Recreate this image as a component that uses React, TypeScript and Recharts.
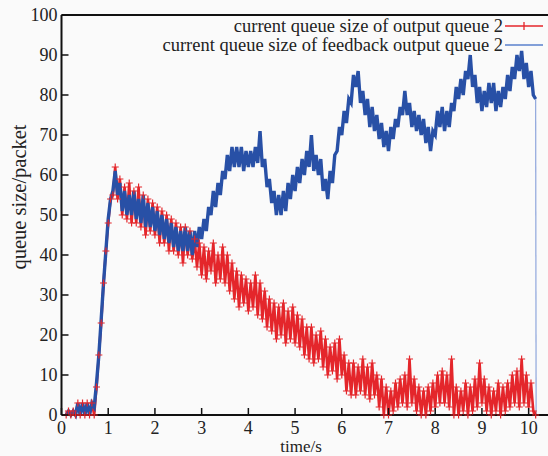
import React from 'react';
import { LineChart, Line, XAxis, YAxis, Legend, ReferenceLine } from 'recharts';

// sampling of the trace: first sample time and spacing (s)
const startTime = 0.1;
const timeStep = 0.05;
const dropTime = 10.16;

// current queue size of output queue 2 (red, with + markers)
const outputQueue = [
  0, 1, 0, 1, 0, 3, 0, 3, 0, 3,
  0, 3, 0, 7, 15, 23, 33, 41, 48, 54,
  55, 62, 54, 59, 50, 57, 49, 58, 48, 56,
  48, 57, 47, 55, 45, 54, 46, 53, 45, 52,
  43, 51, 43, 50, 41, 49, 41, 48, 40, 47,
  38, 47, 40, 46, 39, 44, 37, 43, 35, 42,
  34, 41, 36, 43, 33, 40, 34, 42, 33, 40,
  31, 38, 29, 36, 27, 35, 28, 34, 26, 33,
  27, 35, 25, 33, 24, 31, 22, 29, 21, 28,
  19, 27, 20, 28, 18, 26, 19, 27, 18, 25,
  17, 24, 15, 22, 14, 22, 13, 20, 14, 21,
  12, 19, 10, 17, 11, 18, 9, 19, 10, 15,
  6, 13, 5, 13, 5, 12, 6, 14, 5, 12,
  4, 13, 5, 10, 2, 9, 0, 7, 0, 6,
  1, 8, 2, 9, 3, 10, 2, 14, 3, 9,
  1, 7, 0, 6, 0, 7, 1, 8, 2, 10,
  3, 11, 3, 10, 2, 14, 0, 7, 0, 6,
  1, 8, 0, 7, 1, 9, 2, 13, 3, 9,
  1, 7, 0, 6, 1, 8, 0, 7, 1, 8,
  2, 10, 3, 11, 2, 14, 3, 10, 2, 8,
  1, 0,
];

// current queue size of feedback output queue 2 (blue)
const feedbackQueue = [
  0, 1, 0, 1, 0, 3, 0, 3, 0, 3,
  0, 3, 2, 8, 15, 24, 33, 41, 49, 54,
  56, 61, 55, 58, 51, 56, 50, 55, 50, 56,
  49, 54, 48, 55, 47, 53, 47, 52, 46, 51,
  45, 50, 44, 49, 43, 48, 42, 47, 41, 46,
  41, 47, 41, 46, 40, 46, 42, 47, 44, 49,
  46, 52, 50, 56, 52, 58, 55, 61, 59, 65,
  61, 67, 62, 67, 62, 67, 61, 66, 62, 66,
  62, 67, 63, 71, 62, 64, 57, 59, 53, 56,
  50, 55, 50, 56, 51, 58, 54, 60, 56, 62,
  58, 64, 60, 66, 62, 70, 61, 65, 60, 64,
  56, 59, 54, 61, 58, 65, 66, 72, 70, 76,
  73, 79, 78, 85, 82, 86, 78, 81, 75, 79,
  72, 77, 71, 75, 69, 73, 67, 71, 66, 72,
  69, 74, 72, 77, 75, 81, 75, 78, 72, 76,
  71, 75, 70, 74, 68, 72, 66, 71, 70, 76,
  72, 77, 71, 76, 72, 78, 76, 82, 79, 84,
  80, 86, 84, 90, 82, 85, 78, 82, 76, 81,
  77, 83, 78, 83, 76, 81, 77, 82, 79, 85,
  81, 87, 84, 90, 86, 91, 84, 88, 82, 86,
  80, 79,
];

const xTicks = [0, 1, 2, 3, 4, 5, 6, 7, 8, 9, 10];
const yTicks = [0, 10, 20, 30, 40, 50, 60, 70, 80, 90, 100];

const seriesNames = [
  'current queue size of output queue 2',
  'current queue size of feedback output queue 2',
];

const RED = '#e4262b';
const BLUE = '#2850a6';
const FONT = '"Liberation Serif", "Times New Roman", serif';

const toPoints = (values: number[]) =>
  values.map((v, i) => ({ t: +(startTime + i * timeStep).toFixed(2), v }));

const outputData = toPoints(outputQueue);
const feedbackData = toPoints(feedbackQueue);
// the final fall of the feedback queue, drawn thin like the original
const lastFeedback = feedbackData[feedbackData.length - 1];
const feedbackDrop = [lastFeedback, { t: dropTime, v: 0 }];

const PlusDot = (props: any) => {
  const { cx, cy, index } = props;
  if (cx == null || cy == null) return <g key={index} />;
  return (
    <path
      key={index}
      d={`M${cx - 3.5},${cy}h7M${cx},${cy - 3.5}v7`}
      stroke={RED}
      strokeWidth={1.2}
      fill="none"
    />
  );
};

const YTick = (props: any) => {
  const { x, y, payload } = props;
  return (
    <g>
      <line x1={x} y1={y} x2={x + 7} y2={y} stroke="#111" strokeWidth={1.5} />
      <text x={x - 4} y={y} dy={6} textAnchor="end" fontSize={18} fill="#222" fontFamily={FONT}>
        {payload.value}
      </text>
    </g>
  );
};

const XTick = (props: any) => {
  const { x, y, payload } = props;
  return (
    <g>
      <line x1={x} y1={y} x2={x} y2={y - 7} stroke="#111" strokeWidth={1.5} />
      <text x={x} y={y + 19} textAnchor="middle" fontSize={18} fill="#222" fontFamily={FONT}>
        {payload.value}
      </text>
    </g>
  );
};

const LegendBox = () => (
  <div style={{ fontFamily: FONT, fontSize: 18.5, color: '#222' }}>
    {seriesNames.map((name, i) => (
      <div
        key={name}
        style={{ display: 'flex', alignItems: 'center', justifyContent: 'flex-end', height: 18.5 }}
      >
        <span style={{ whiteSpace: 'nowrap', lineHeight: '18px' }}>{name}</span>
        <svg width={40} height={18} style={{ display: 'block' }}>
          <line x1={2} y1={9} x2={40} y2={9} stroke={i === 0 ? RED : '#5a80cc'} strokeWidth={1.3} />
          {i === 0 && <line x1={21} y1={5} x2={21} y2={13} stroke={RED} strokeWidth={1.3} />}
        </svg>
      </div>
    ))}
  </div>
);

export default function App() {
  return (
    <div
      style={{
        position: 'absolute',
        left: 0,
        top: 0,
        width: 548,
        height: 456,
        overflow: 'hidden',
        background: '#fafafa',
      }}
    >
      <LineChart width={560} height={456} margin={{ top: 15, right: 8, left: 0, bottom: 0 }}>
        <XAxis
          type="number"
          dataKey="t"
          domain={[0, 10.5]}
          ticks={xTicks}
          allowDataOverflow
          height={41}
          tickSize={0}
          tickMargin={0}
          tick={<XTick />}
          axisLine={{ stroke: '#111', strokeWidth: 2 }}
          tickLine={false}
        />
        <YAxis
          type="number"
          dataKey="v"
          domain={[0, 100]}
          ticks={yTicks}
          width={61.5}
          tickSize={0}
          tickMargin={0}
          tick={<YTick />}
          axisLine={{ stroke: '#111', strokeWidth: 2 }}
          tickLine={false}
        />
        <ReferenceLine y={100} stroke="#111" strokeWidth={2} />
        <Line
          data={outputData}
          dataKey="v"
          name={seriesNames[0]}
          stroke={RED}
          strokeWidth={2.6}
          dot={PlusDot}
          activeDot={false}
          isAnimationActive={false}
        />
        <Line
          data={feedbackData}
          dataKey="v"
          name={seriesNames[1]}
          stroke={BLUE}
          strokeWidth={3.4}
          strokeLinejoin="miter"
          dot={false}
          activeDot={false}
          isAnimationActive={false}
        />
        <Line
          data={feedbackDrop}
          dataKey="v"
          legendType="none"
          stroke="#8fa6dc"
          strokeWidth={1.2}
          dot={false}
          activeDot={false}
          isAnimationActive={false}
        />
        <Legend
          layout="vertical"
          align="center"
          verticalAlign="middle"
          content={<LegendBox />}
          wrapperStyle={{ top: 17, right: 17, left: 'auto', bottom: 'auto', width: 'auto' }}
        />
        <text x={301} y={452} textAnchor="middle" fontSize={17} fill="#222" fontFamily={FONT}>
          time/s
        </text>
        <text
          transform="translate(26,197) rotate(-90)"
          textAnchor="middle"
          fontSize={20.5}
          fill="#222"
          fontFamily={FONT}
        >
          queue size/packet
        </text>
      </LineChart>
    </div>
  );
}
